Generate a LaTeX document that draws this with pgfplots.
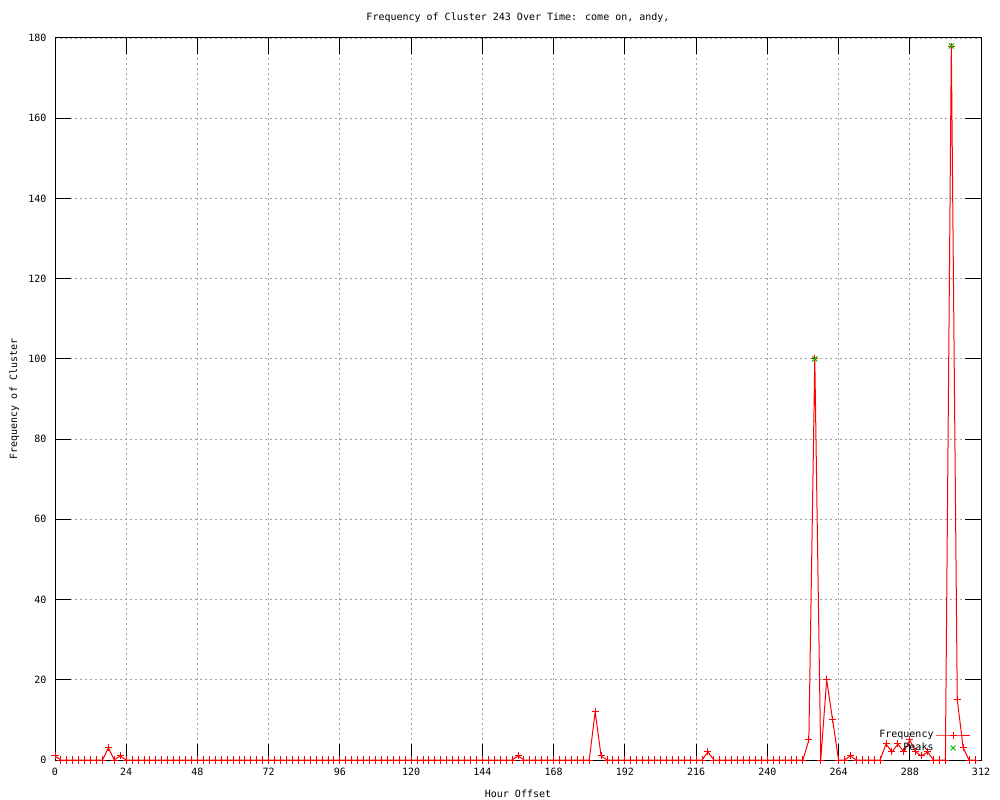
\documentclass[border=0pt]{standalone}
\usepackage{fontspec}
\setmainfont{DejaVu Sans Mono}
\usepackage{pgfplots}
\pgfplotsset{compat=1.18}
\definecolor{gpred}{RGB}{255,0,0}
\definecolor{gpgreen}{RGB}{0,192,0}
\definecolor{gridgray}{RGB}{160,160,160}
\begin{document}
\begin{tikzpicture}[font=\fontsize{10bp}{12bp}\selectfont]
\useasboundingbox (0,0) rectangle (1000bp,800bp);
\begin{axis}[
  at={(55bp,40bp)}, anchor=south west,
  width=926bp, height=722bp, scale only axis,
  xmin=0, xmax=312, ymin=0, ymax=180,
  xtick={0,24,...,312}, ytick={0,20,...,180},
  /pgf/number format/assume math mode=true,
  tick align=inside, major tick length=16bp,
  tick style={black, line width=1bp},
  axis line style={line width=1bp},
  grid=major,
  grid style={gridgray, line width=0.9bp, dash pattern=on 2bp off 3bp},
  title={Frequency of Cluster 243 Over Time: come on, andy,},
  title style={at={(0.5,1)}, anchor=south, yshift=6bp},
  xlabel={Hour Offset},
  xlabel style={at={(0.5,0)}, anchor=base, yshift=-37bp},
  ylabel={Frequency of Cluster},
  ylabel style={at={(axis description cs:0,0.5)}, anchor=base, yshift=38bp},
  xticklabel style={yshift=-5bp},
  yticklabel style={xshift=-5bp},
  legend style={at={(0.99,0.006)}, anchor=south east, draw=none, fill=none,
    row sep=0bp, inner sep=1bp, font=\fontsize{10bp}{12bp}\selectfont},
  legend plot pos=right,
  legend cell align=right,
  legend image code/.code={\draw[mark repeat=2,mark phase=2,#1] plot coordinates {(0cm,0cm) (0.6cm,0cm) (1.2cm,0cm)};},
]
\addplot[color=gpred, line width=1bp, mark=+, mark size=3.5bp, mark options={solid}] coordinates {
(0,1) (2,0) (4,0) (6,0) (8,0) (10,0) (12,0) (14,0) (16,0) (18,3)
(20,0) (22,1) (24,0) (26,0) (28,0) (30,0) (32,0) (34,0) (36,0) (38,0)
(40,0) (42,0) (44,0) (46,0) (48,0) (50,0) (52,0) (54,0) (56,0) (58,0)
(60,0) (62,0) (64,0) (66,0) (68,0) (70,0) (72,0) (74,0) (76,0) (78,0)
(80,0) (82,0) (84,0) (86,0) (88,0) (90,0) (92,0) (94,0) (96,0) (98,0)
(100,0) (102,0) (104,0) (106,0) (108,0) (110,0) (112,0) (114,0) (116,0) (118,0)
(120,0) (122,0) (124,0) (126,0) (128,0) (130,0) (132,0) (134,0) (136,0) (138,0)
(140,0) (142,0) (144,0) (146,0) (148,0) (150,0) (152,0) (154,0) (156,1) (158,0)
(160,0) (162,0) (164,0) (166,0) (168,0) (170,0) (172,0) (174,0) (176,0) (178,0)
(180,0) (182,12) (184,1) (186,0) (188,0) (190,0) (192,0) (194,0) (196,0) (198,0)
(200,0) (202,0) (204,0) (206,0) (208,0) (210,0) (212,0) (214,0) (216,0) (218,0)
(220,2) (222,0) (224,0) (226,0) (228,0) (230,0) (232,0) (234,0) (236,0) (238,0)
(240,0) (242,0) (244,0) (246,0) (248,0) (250,0) (252,0) (254,5) (256,100) (258,0)
(260,20) (262,10) (264,0) (266,0) (268,1) (270,0) (272,0) (274,0) (276,0) (278,0)
(280,4) (282,2) (284,4) (286,2) (288,5) (290,2) (292,1) (294,2) (296,0) (298,0)
(300,0) (302,178) (304,15) (306,3) (308,0) (310,0)
};
\addlegendentry{Frequency}
\addplot[color=gpgreen, only marks, mark=x, mark size=3.5bp, line width=1bp] coordinates {
(256,100) (302,178)
};
\addlegendentry{Peaks}
\end{axis}
\end{tikzpicture}
\end{document}
